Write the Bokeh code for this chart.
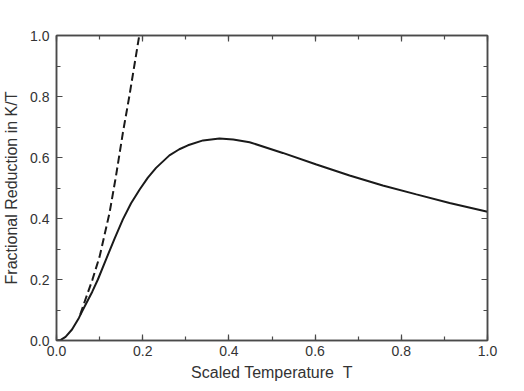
from bokeh.plotting import figure
from bokeh.models import Range1d, LinearAxis, SingleIntervalTicker, NumeralTickFormatter, CustomJSTickFormatter
from bokeh.embed import file_html
from bokeh.resources import INLINE

# Solid curve: fractional reduction vs scaled temperature
t_solid = [0.0, 0.010, 0.021, 0.036, 0.052, 0.061, 0.083, 0.096, 0.115, 0.135, 0.154,
           0.173, 0.193, 0.212, 0.231, 0.262, 0.285, 0.305, 0.340, 0.378, 0.410,
           0.448, 0.525, 0.603, 0.680, 0.757, 0.835, 0.912, 1.0]
v_solid = [0.0, 0.002, 0.012, 0.036, 0.074, 0.100, 0.160, 0.200, 0.266, 0.335, 0.397,
           0.450, 0.495, 0.534, 0.566, 0.607, 0.627, 0.640, 0.656, 0.662, 0.659,
           0.650, 0.615, 0.577, 0.541, 0.508, 0.479, 0.451, 0.422]

# Dashed curve: low-temperature approximation
t_dash = [0.055, 0.063, 0.083, 0.100, 0.123, 0.138, 0.154, 0.169, 0.192]
v_dash = [0.085, 0.118, 0.198, 0.275, 0.418, 0.539, 0.681, 0.801, 1.0]

x_label = "Scaled Temperature\u00a0\u00a0T"
y_label = "Fractional Reduction in K/T"

FONT = "Liberation Sans"
AX = "#4a4a4a"
TXT = "#333333"

p = figure(width=515, height=383, output_backend="svg", toolbar_location=None,
           x_range=Range1d(0, 1), y_range=Range1d(0, 1),
           min_border_left=10, min_border_right=28, min_border_top=35, min_border_bottom=10,
           x_axis_label=x_label, y_axis_label=y_label)
p.grid.visible = False
p.outline_line_color = AX
p.outline_line_width = 1.5
p.background_fill_color = "white"
p.border_fill_color = "white"

p.line(t_solid, v_solid, line_color="#1a1a1a", line_width=2)
p.line(t_dash, v_dash, line_color="#1a1a1a", line_width=2, line_dash="8 4")

def style(ax, labels=True):
    ax.ticker = SingleIntervalTicker(interval=0.2, num_minor_ticks=2)
    ax.formatter = NumeralTickFormatter(format="0.0")
    ax.axis_line_color = AX
    ax.axis_line_width = 1.5
    ax.major_tick_line_color = AX
    ax.minor_tick_line_color = AX
    ax.major_tick_line_width = 1.2
    ax.minor_tick_line_width = 1.2
    ax.major_tick_in = 6
    ax.major_tick_out = 0
    ax.minor_tick_in = 4
    ax.minor_tick_out = 0
    ax.major_label_text_font = FONT
    ax.major_label_text_font_size = "14px"
    ax.major_label_text_color = TXT
    ax.axis_label_text_font = FONT
    ax.axis_label_text_font_size = "16px"
    ax.axis_label_text_font_style = "normal"
    ax.axis_label_text_color = TXT
    if not labels:
        ax.formatter = CustomJSTickFormatter(code="return '';")
        ax.major_label_standoff = 0

for ax in p.xaxis + p.yaxis:
    style(ax)
p.xaxis.major_label_standoff = 5
p.xaxis.axis_label_standoff = 5
p.yaxis.major_label_standoff = 7
p.yaxis.axis_label_standoff = 7

top = LinearAxis()
right = LinearAxis()
style(top, labels=False)
style(right, labels=False)
p.add_layout(top, "above")
p.add_layout(right, "right")

open("out.html", "w").write(file_html(p, INLINE))
